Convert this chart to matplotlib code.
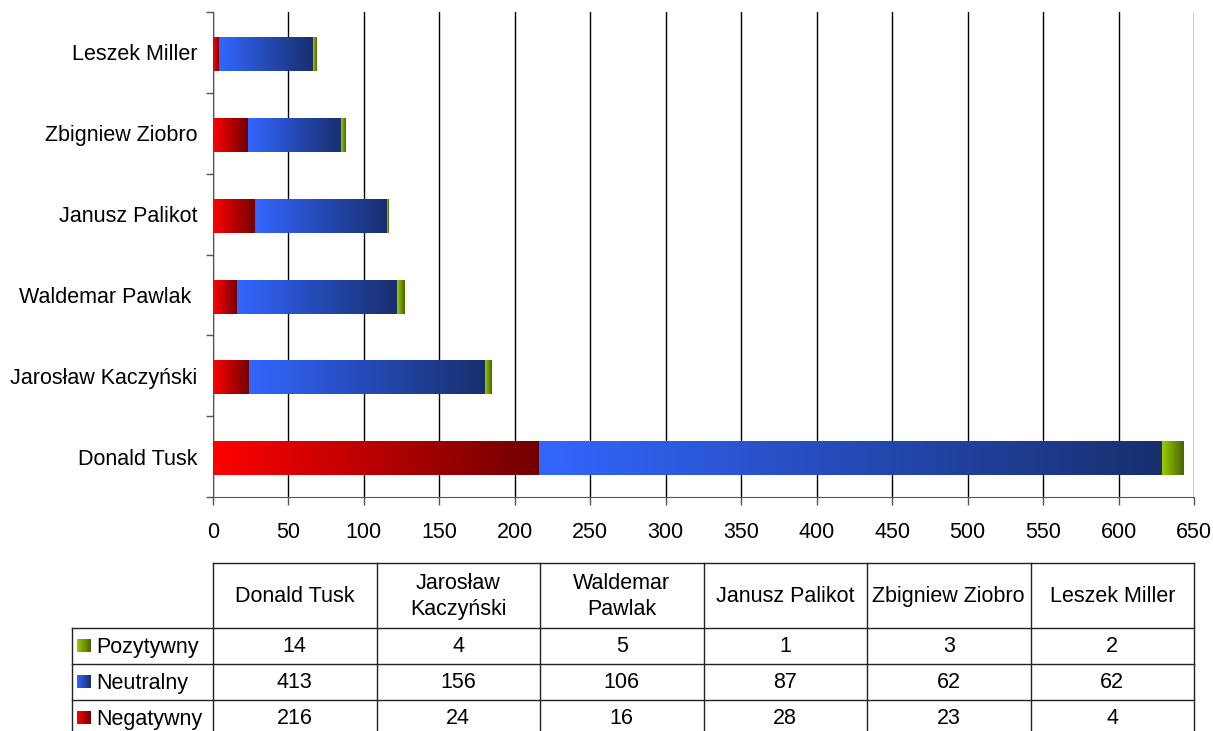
import numpy as np
import matplotlib.pyplot as plt
from matplotlib.colors import LinearSegmentedColormap

plt.rcParams['font.family'] = ['Liberation Sans', 'DejaVu Sans']

# data (bottom to top)
names = ['Donald Tusk', 'Jarosław Kaczyński', 'Waldemar Pawlak ', 'Janusz Palikot',
         'Zbigniew Ziobro', 'Leszek Miller']
header_names = ['Donald Tusk', 'Jarosław\nKaczyński', 'Waldemar\nPawlak', 'Janusz Palikot',
                'Zbigniew Ziobro', 'Leszek Miller']
negatywny = [216, 24, 16, 28, 23, 4]
neutralny = [413, 156, 106, 87, 62, 62]
pozytywny = [14, 4, 5, 1, 3, 2]

series = [('Negatywny', negatywny, '#FF0000', '#700000'),
          ('Neutralny', neutralny, '#3366FF', '#182F6E'),
          ('Pozytywny', pozytywny, '#99CC00', '#4A6400')]

fig = plt.figure(figsize=(12.13, 7.31), dpi=100)
W, H = 1213, 731
ax = fig.add_axes([213 / W, 1 - 497 / H, (1194 - 213) / W, (497 - 12) / H])

grad = np.linspace(0, 1, 256).reshape(1, -1)
y = np.arange(len(names))
bh = 0.42
left = np.zeros(len(names))
for label, vals, c1, c2 in series:
    cmap = LinearSegmentedColormap.from_list(label, [c1, c2])
    bars = ax.barh(y - 0.02, vals, left=left, height=bh, color='none', linewidth=0)
    for b in bars:
        x0, y0 = b.get_x(), b.get_y()
        ax.imshow(grad, cmap=cmap, aspect='auto', zorder=3,
                  extent=(x0, x0 + b.get_width(), y0, y0 + b.get_height()))
    left = left + np.array(vals)

fs = 15.5
ax.set_xlim(0, 650)
ax.set_ylim(-0.5, len(names) - 0.5)
ax.set_xticks(np.arange(0, 651, 50))
ax.tick_params(axis='x', labelsize=fs, length=6, width=1, pad=12, color='#555555')
ax.set_yticks(np.arange(-0.5, len(names), 1))
ax.set_yticklabels([])
ax.set_yticks(y, minor=True)
ax.set_yticklabels(names, minor=True)
ax.tick_params(axis='y', which='major', length=5, width=1, color='#555555')
ax.tick_params(axis='y', which='minor', length=0, labelsize=fs, pad=11)
ax.grid(axis='x', color='black', linewidth=1, zorder=1)
ax.set_axisbelow(True)
for s in ['top', 'right']:
    ax.spines[s].set_visible(False)
ax.spines['left'].set_color('#555555')
ax.spines['bottom'].set_color('#555555')

# data table under the chart, drawn in pixel coordinates
tx = fig.add_axes([0, 0, 1, 1])
tx.set_xlim(0, W)
tx.set_ylim(H, 0)
tx.axis('off')
cols = np.linspace(213, 1194, len(names) + 1)
rows = [563, 628, 664, 700, 736]
lc = '#222222'
tx.plot([213, 1194], [563, 563], color=lc, lw=1)
for r in rows[1:4]:
    tx.plot([72, 1194], [r, r], color=lc, lw=1)
tx.plot([72, 72], [628, 736], color=lc, lw=1)
for c in cols:
    tx.plot([c, c], [563, 736], color=lc, lw=1)
for i, h in enumerate(header_names):
    tx.text((cols[i] + cols[i + 1]) / 2, (563 + 628) / 2 + 1, h, ha='center', va='center',
            fontsize=fs, linespacing=1.35)

table_rows = [series[2], series[1], series[0]]
for j, (label, vals, c1, c2) in enumerate(table_rows):
    yc = (rows[j + 1] + rows[j + 2]) / 2
    cmap = LinearSegmentedColormap.from_list(label + 'k', [c1, c2])
    tx.imshow(grad, cmap=cmap, aspect='auto', extent=(77, 91, yc + 6.5, yc - 6.5))
    tx.text(96, yc + 1, label, ha='left', va='center', fontsize=fs)
    for i, v in enumerate(vals):
        tx.text((cols[i] + cols[i + 1]) / 2, yc + 1, str(v), ha='center', va='center',
                fontsize=fs)
tx.set_xlim(0, W)
tx.set_ylim(H, 0)

plt.savefig('out.png', dpi=100)
